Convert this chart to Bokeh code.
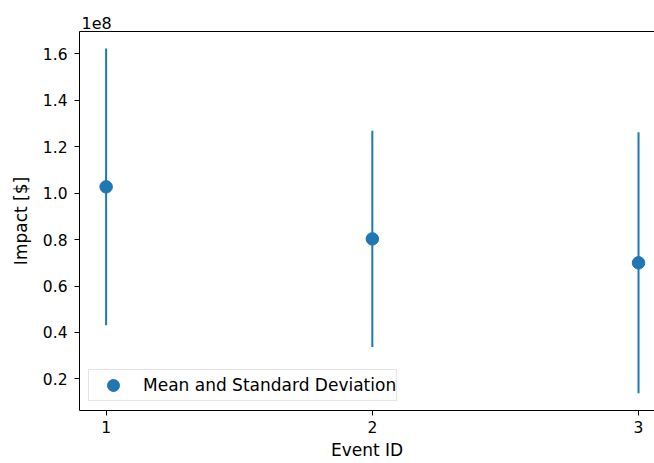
from bokeh.plotting import figure
from bokeh.models import (ColumnDataSource, FixedTicker, CustomJSTickFormatter, LinearAxis,
                          Legend, LegendItem, Range1d)
from bokeh.embed import file_html
from bokeh.resources import INLINE

event_ids = [1, 2, 3]
means = [1.027e8, 0.803e8, 0.700e8]
stds = [0.596e8, 0.466e8, 0.562e8]
y_ticks = [0.2e8, 0.4e8, 0.6e8, 0.8e8, 1.0e8, 1.2e8, 1.4e8, 1.6e8]
x_ticks = [1, 2, 3]

COLOR = "#1f77b4"
FONT = "DejaVu Sans"
TICK_FS = "15.5px"
LABEL_FS = "17px"

src = ColumnDataSource(dict(
    x=event_ids,
    y=means,
    lo=[m - s for m, s in zip(means, stds)],
    hi=[m + s for m, s in zip(means, stds)],
))

p = figure(width=654, height=463, output_backend="svg", toolbar_location=None,
           x_range=Range1d(0.9, 3.06), y_range=Range1d(0.064e8, 1.696e8),
           min_border_left=79, min_border_top=31, min_border_bottom=53, min_border_right=0)
p.outline_line_color = None
p.grid.visible = False
p.background_fill_color = "white"
p.border_fill_color = "white"

p.title.text = "1e8"
p.title.align = "left"
p.title.offset = 2
p.title.standoff = 6
p.title.text_font = FONT
p.title.text_font_size = "16px"
p.title.text_font_style = "normal"
p.title.text_color = "black"

seg = p.segment(x0="x", y0="lo", x1="x", y1="hi", source=src, line_color=COLOR, line_width=2)
pts = p.scatter(x="x", y="y", source=src, size=12.5, fill_color=COLOR, line_color=COLOR)

for ax in (p.xaxis[0], p.yaxis[0]):
    ax.major_tick_out = 5
    ax.major_tick_in = 0
    ax.minor_tick_line_color = None
    ax.axis_line_color = "black"
    ax.major_tick_line_color = "black"
    ax.major_label_text_font = FONT
    ax.major_label_text_font_size = TICK_FS
    ax.major_label_text_color = "black"
    ax.axis_label_text_font = FONT
    ax.axis_label_text_font_size = LABEL_FS
    ax.axis_label_text_font_style = "normal"
    ax.axis_label_text_color = "black"

p.xaxis.ticker = FixedTicker(ticks=x_ticks)
p.xaxis.axis_label = "Event ID"
p.xaxis.major_label_standoff = 5
p.xaxis.axis_label_standoff = 4
p.yaxis.ticker = FixedTicker(ticks=y_ticks)
p.yaxis.formatter = CustomJSTickFormatter(code="return (tick/1e8).toFixed(1);")
p.yaxis.axis_label = "Impact [$]"
p.yaxis.major_label_standoff = 7
p.yaxis.axis_label_standoff = 9

top = LinearAxis(ticker=FixedTicker(ticks=[]), major_tick_out=0, major_tick_in=0,
                 minor_tick_line_color=None, major_label_text_font_size="0px",
                 major_label_standoff=0, axis_line_color="black")
p.add_layout(top, "above")

legend = Legend(items=[LegendItem(label="Mean and Standard Deviation", renderers=[pts])],
                location="bottom_left", margin=9, padding=0, glyph_width=48, glyph_height=30,
                label_height=30, label_standoff=6, spacing=0,
                label_text_font=FONT, label_text_font_size=LABEL_FS, label_text_color="black",
                border_line_color="#cccccc", border_line_width=1, background_fill_alpha=0.8)
p.add_layout(legend)

open("out.html", "w").write(file_html(p, INLINE))
